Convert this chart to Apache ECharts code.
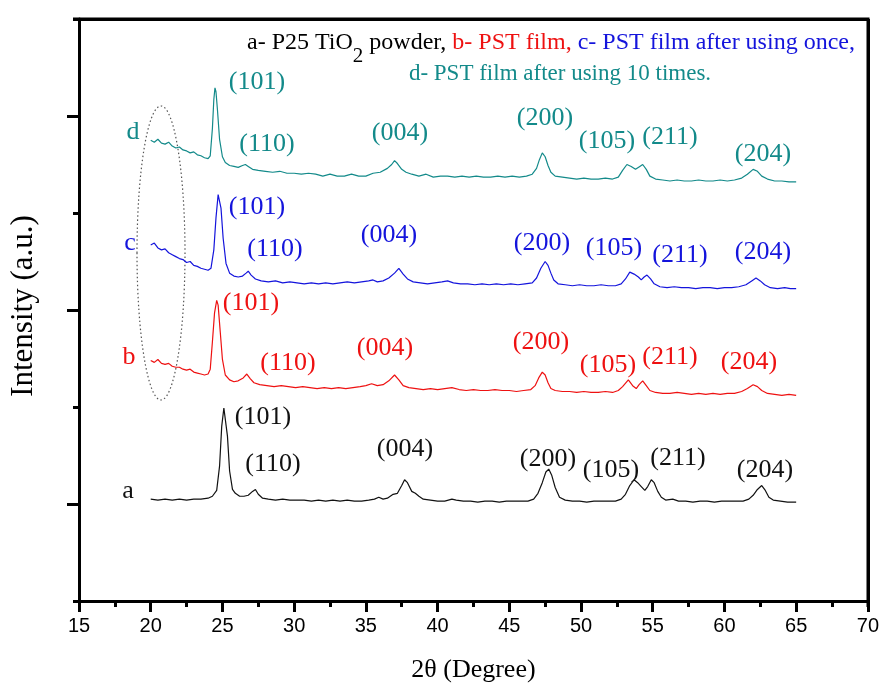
<!DOCTYPE html>
<html>
<head>
<meta charset="utf-8">
<script src="https://cdn.jsdelivr.net/npm/echarts@6/dist/echarts.min.js"></script>
<style>
  html, body { margin: 0; padding: 0; background: #fff; }
  #chart { width: 882px; height: 688px; }
</style>
</head>
<body>
<div id="chart"></div>
<script>
// XRD patterns, offset vertically: [2θ (degree), intensity (a.u.)]
const patternA = [[20.0,105],[20.5,104],[21.0,105],[21.5,104],[22.0,105],[22.5,104],[23.0,105],[23.5,105],[24.0,106],[24.3,108],[24.6,114],[24.8,139],[24.95,180],[25.1,199],[25.2,197],[25.35,170],[25.5,134],[25.7,115],[25.9,111],[26.2,108],[26.5,108],[26.8,109],[27.1,113],[27.3,115],[27.5,110],[27.8,106],[28.2,105],[28.7,104],[29.2,105],[29.7,104],[30.2,104],[30.7,104],[31.2,103],[31.7,104],[32.2,103],[32.7,104],[33.2,103],[33.7,104],[34.2,103],[34.7,103],[35.2,104],[35.6,105],[35.9,107],[36.2,105],[36.5,106],[36.9,110],[37.2,111],[37.5,119],[37.7,125],[37.9,122],[38.2,113],[38.45,111],[38.7,108],[39.0,105],[39.5,104],[40.0,103],[40.5,103],[41.0,105],[41.3,104],[41.8,103],[42.3,103],[42.8,102],[43.3,103],[43.8,103],[44.3,102],[44.8,103],[45.3,103],[45.8,103],[46.3,103],[46.7,105],[47.0,111],[47.3,122],[47.55,133],[47.75,136],[47.95,130],[48.2,117],[48.5,107],[48.9,104],[49.4,103],[49.9,103],[50.4,102],[50.9,103],[51.4,103],[51.9,103],[52.4,103],[52.8,105],[53.1,110],[53.4,119],[53.7,125],[53.95,122],[54.2,118],[54.45,114],[54.65,118],[54.9,125],[55.1,122],[55.35,113],[55.6,107],[55.9,104],[56.4,105],[56.8,103],[57.3,103],[57.8,102],[58.3,103],[58.8,103],[59.3,102],[59.8,103],[60.3,103],[60.8,103],[61.3,103],[61.7,105],[62.0,109],[62.3,115],[62.6,119],[62.85,114],[63.1,107],[63.4,104],[63.9,103],[64.4,102],[65.0,102]];

const patternB = [[20.0,248],[20.25,246],[20.5,249],[20.75,245],[21.0,244],[21.25,245],[21.5,242],[21.75,241],[22.0,241],[22.25,239],[22.5,238],[22.75,239],[23.0,236],[23.25,235],[23.5,234],[23.75,233],[24.0,234],[24.15,239],[24.3,267],[24.45,297],[24.6,310],[24.7,305],[24.85,277],[25.0,249],[25.2,233],[25.5,228],[25.8,226],[26.1,227],[26.45,230],[26.7,234],[26.95,229],[27.2,225],[27.6,223],[28.1,222],[28.6,221],[29.1,222],[29.6,221],[30.1,220],[30.6,221],[31.1,220],[31.6,219],[32.1,220],[32.6,219],[33.1,220],[33.6,219],[34.1,220],[34.6,221],[35.0,222],[35.4,224],[35.8,222],[36.2,223],[36.6,227],[37.0,233],[37.3,228],[37.6,222],[38.0,220],[38.5,219],[39.0,218],[39.5,219],[40.0,218],[40.5,219],[41.0,220],[41.5,218],[42.0,217],[42.5,218],[43.0,217],[43.5,217],[44.0,218],[44.5,217],[45.0,217],[45.5,216],[46.0,217],[46.5,218],[46.8,222],[47.05,230],[47.3,236],[47.5,233],[47.7,225],[47.9,219],[48.2,217],[48.7,216],[49.2,216],[49.7,215],[50.2,216],[50.7,215],[51.2,215],[51.7,216],[52.2,215],[52.6,217],[52.9,221],[53.3,228],[53.6,222],[53.85,219],[54.05,223],[54.3,227],[54.55,222],[54.8,217],[55.2,215],[55.7,214],[56.2,214],[56.7,215],[57.2,214],[57.7,213],[58.2,214],[58.7,213],[59.2,214],[59.7,213],[60.2,214],[60.7,214],[61.2,216],[61.6,219],[62.0,223],[62.3,221],[62.6,217],[63.0,214],[63.5,213],[64.0,212],[64.5,213],[65.0,212]];

const patternC = [[20.0,367],[20.25,369],[20.5,364],[20.75,362],[21.0,363],[21.25,359],[21.5,357],[21.75,355],[22.0,353],[22.25,352],[22.5,349],[22.75,350],[23.0,346],[23.25,345],[23.5,343],[23.75,342],[24.0,341],[24.2,343],[24.4,362],[24.55,395],[24.7,419],[24.78,420],[24.9,405],[25.05,374],[25.25,348],[25.5,338],[25.8,335],[26.1,334],[26.4,335],[26.65,338],[26.8,340],[27.0,336],[27.3,332],[27.7,330],[28.2,329],[28.7,330],[29.2,328],[29.7,329],[30.2,328],[30.7,327],[31.2,328],[31.7,327],[32.2,328],[32.7,327],[33.2,328],[33.7,329],[34.2,328],[34.7,329],[35.2,330],[35.5,331],[35.8,329],[36.2,330],[36.6,333],[37.0,338],[37.3,343],[37.6,337],[37.9,332],[38.3,329],[38.8,328],[39.3,327],[39.8,328],[40.3,329],[40.7,330],[41.1,328],[41.6,327],[42.1,327],[42.6,326],[43.1,327],[43.6,326],[44.1,327],[44.6,326],[45.1,327],[45.6,326],[46.1,327],[46.6,328],[46.9,333],[47.2,343],[47.5,350],[47.7,346],[47.9,338],[48.1,331],[48.4,327],[48.9,326],[49.4,325],[49.9,326],[50.4,325],[50.9,325],[51.4,326],[51.9,325],[52.4,325],[52.8,327],[53.1,332],[53.4,339],[53.7,337],[54.0,334],[54.2,331],[54.4,334],[54.6,336],[54.85,332],[55.1,327],[55.5,324],[56.0,323],[56.5,324],[57.0,323],[57.5,323],[58.0,322],[58.5,323],[59.0,323],[59.5,322],[60.0,323],[60.5,323],[61.0,324],[61.5,326],[61.9,330],[62.2,333],[62.5,330],[62.8,326],[63.2,323],[63.7,322],[64.2,323],[64.6,322],[65.0,322]];

const patternD = [[20.0,475],[20.25,473],[20.5,476],[20.75,472],[21.0,471],[21.25,473],[21.5,469],[21.75,467],[22.0,468],[22.25,465],[22.5,464],[22.75,462],[23.0,463],[23.25,460],[23.5,459],[23.75,457],[24.0,456],[24.15,459],[24.3,487],[24.4,517],[24.48,529],[24.55,525],[24.65,507],[24.8,476],[25.0,458],[25.2,452],[25.5,449],[25.8,448],[26.1,447],[26.4,449],[26.6,450],[26.8,448],[27.1,445],[27.5,444],[28.0,443],[28.5,442],[29.0,443],[29.5,441],[30.0,441],[30.5,440],[31.0,441],[31.5,440],[32.0,438],[32.5,440],[33.0,438],[33.5,438],[34.0,440],[34.5,438],[35.0,438],[35.5,441],[36.0,442],[36.5,446],[36.8,450],[37.0,454],[37.2,451],[37.5,445],[37.8,442],[38.2,440],[38.7,438],[39.2,440],[39.7,437],[40.2,438],[40.7,438],[41.2,437],[41.7,438],[42.2,437],[42.7,438],[43.2,437],[43.7,437],[44.2,438],[44.7,437],[45.2,438],[45.7,437],[46.2,438],[46.6,440],[46.9,446],[47.1,455],[47.3,462],[47.5,458],[47.7,449],[47.9,442],[48.2,438],[48.7,437],[49.2,436],[49.7,435],[50.2,436],[50.7,435],[51.2,435],[51.7,436],[52.2,435],[52.6,437],[52.9,444],[53.2,450],[53.5,448],[53.8,445],[54.1,448],[54.3,450],[54.55,445],[54.8,438],[55.2,435],[55.7,434],[56.2,433],[56.7,434],[57.2,433],[57.7,433],[58.2,434],[58.7,433],[59.2,433],[59.7,434],[60.2,433],[60.7,434],[61.2,436],[61.6,440],[62.0,445],[62.3,443],[62.6,438],[63.0,435],[63.5,433],[64.0,433],[64.5,432],[65.0,432]];

// Curve letters and (hkl) reflection labels: [text, 2θ, intensity]
const labelsA = [['a',18.42,113],['(101)',27.83,189],['(110)',28.52,141],['(004)',37.73,157],['(200)',47.69,146],['(105)',52.09,135],['(211)',56.76,147],['(204)',62.82,135]];
const labelsB = [['b',18.49,251],['(101)',26.99,307],['(110)',29.57,245],['(004)',36.33,261],['(200)',47.21,267],['(105)',51.88,243],['(211)',56.20,251],['(204)',61.71,246]];
const labelsC = [['c',18.56,369],['(101)',27.41,406],['(110)',28.66,363],['(004)',36.61,377],['(200)',47.28,369],['(105)',52.30,364],['(211)',56.90,357],['(204)',62.68,360]];
const labelsD = [['d',18.76,483],['(101)',27.41,535],['(110)',28.11,471],['(004)',37.38,482],['(200)',47.49,498],['(105)',51.81,474],['(211)',56.20,478],['(204)',62.68,461]];

const X_RANGE = [15, 70];
const Y_RANGE = [0, 600];
const xTicks = [15, 20, 25, 30, 35, 40, 45, 50, 55, 60, 65, 70];

const SERIF = '"Liberation Serif", "Times New Roman", serif';
const SANS = '"Liberation Sans", Arial, sans-serif';
const COLORS = { a: '#111111', b: '#ee1111', c: '#1414dc', d: '#138a8a' };

// plot box, in pixels
const BOX = { left: 79, top: 19, right: 868, bottom: 606 };

function curve(name, data, color) {
  return {
    name, type: 'line', data, showSymbol: false, silent: true,
    lineStyle: { width: 1.2, color }, z: 3
  };
}
function tags(labels, color) {
  return {
    type: 'scatter', silent: true, symbolSize: 0, z: 4,
    data: labels.map(l => ({ name: l[0], value: [l[1], l[2]] })),
    label: {
      show: true, position: 'inside', formatter: '{b}',
      color, fontFamily: SERIF, fontSize: 26,
      textBorderWidth: 0, textShadowBlur: 0, opacity: 1
    }
  };
}

const seriesA = curve('a', patternA, COLORS.a);
seriesA.clip = false;
// top and right edges of the frame
seriesA.markLine = {
  silent: true, symbol: 'none', animation: false,
  label: { show: false },
  lineStyle: { color: '#000', width: 3, type: 'solid' },
  emphasis: { disabled: true },
  data: [
    [{ coord: [X_RANGE[0], Y_RANGE[1]] }, { coord: [X_RANGE[1], Y_RANGE[1]] }],
    [{ coord: [X_RANGE[1], Y_RANGE[1]] }, { coord: [X_RANGE[1], Y_RANGE[0]] }]
  ]
};

const chart = echarts.init(document.getElementById('chart'), null, { renderer: 'canvas' });
chart.setOption({
  animation: false,
  backgroundColor: '#fff',
  grid: { left: BOX.left, right: 882 - BOX.right, top: BOX.top, bottom: 688 - BOX.bottom },
  xAxis: {
    type: 'value', min: X_RANGE[0], max: X_RANGE[1], interval: 5,
    name: '2θ (Degree)', nameLocation: 'middle', nameGap: 56,
    nameTextStyle: { fontFamily: SERIF, fontSize: 26, color: '#000' },
    axisLine: { onZero: false, lineStyle: { color: '#000', width: 3 } },
    axisTick: { length: 11, lineStyle: { color: '#000', width: 3 } },
    minorTick: { show: true, splitNumber: 2, length: 6, lineStyle: { color: '#000', width: 3 } },
    axisLabel: { fontFamily: SANS, fontSize: 20, color: '#000', margin: 15,
      formatter: v => xTicks.includes(v) ? String(v) : '' },
    splitLine: { show: false }
  },
  yAxis: {
    type: 'value', min: Y_RANGE[0], max: Y_RANGE[1], interval: 200,
    name: 'Intensity (a.u.)', nameLocation: 'middle', nameGap: 40,
    nameTextStyle: { fontFamily: SERIF, fontSize: 31, color: '#000', padding: [0, 0, 0, 8] },
    axisLine: { onZero: false, lineStyle: { color: '#000', width: 3 } },
    axisTick: { length: 6, lineStyle: { color: '#000', width: 3 } },
    minorTick: { show: true, splitNumber: 2, length: 12, lineStyle: { color: '#000', width: 3 } },
    axisLabel: { show: false },
    splitLine: { show: false }
  },
  series: [
    seriesA,
    curve('b', patternB, COLORS.b),
    curve('c', patternC, COLORS.c),
    curve('d', patternD, COLORS.d),
    tags(labelsA, COLORS.a),
    tags(labelsB, COLORS.b),
    tags(labelsC, COLORS.c),
    tags(labelsD, COLORS.d)
  ],
  graphic: [
    {
      type: 'polyline', z: 20, silent: true,
      shape: { points: [[BOX.left - 6, BOX.top], [BOX.right, BOX.top], [BOX.right, BOX.bottom + 1]] },
      style: { stroke: '#000', lineWidth: 3, fill: null }
    },
    {
      type: 'text', left: 247, top: 31, z: 10,
      style: {
        text: '{k|a- P25 TiO}{s|2}{k| powder, }{r|b- PST film, }{b|c- PST film after using once,}',
        rich: {
          k: { fontFamily: SERIF, fontSize: 24, fill: '#000', lineHeight: 28, verticalAlign: 'top' },
          s: { fontFamily: SERIF, fontSize: 21, fill: '#000', lineHeight: 36, verticalAlign: 'bottom' },
          r: { fontFamily: SERIF, fontSize: 24, fill: COLORS.b, lineHeight: 28, verticalAlign: 'top' },
          b: { fontFamily: SERIF, fontSize: 24, fill: COLORS.c, lineHeight: 28, verticalAlign: 'top' }
        }
      }
    },
    {
      type: 'text', z: 10, x: 560, y: 74,
      style: {
        text: 'd- PST film after using 10 times.',
        fontFamily: SERIF, fontSize: 23, fill: COLORS.d,
        align: 'center', verticalAlign: 'middle'
      }
    },
    {
      type: 'ellipse', z: 2, silent: true,
      shape: { cx: 161, cy: 253, rx: 24, ry: 147 },
      style: { fill: 'none', stroke: '#555', lineWidth: 1.2, lineDash: [1.5, 2.5] }
    }
  ]
});
</script>
</body>
</html>
